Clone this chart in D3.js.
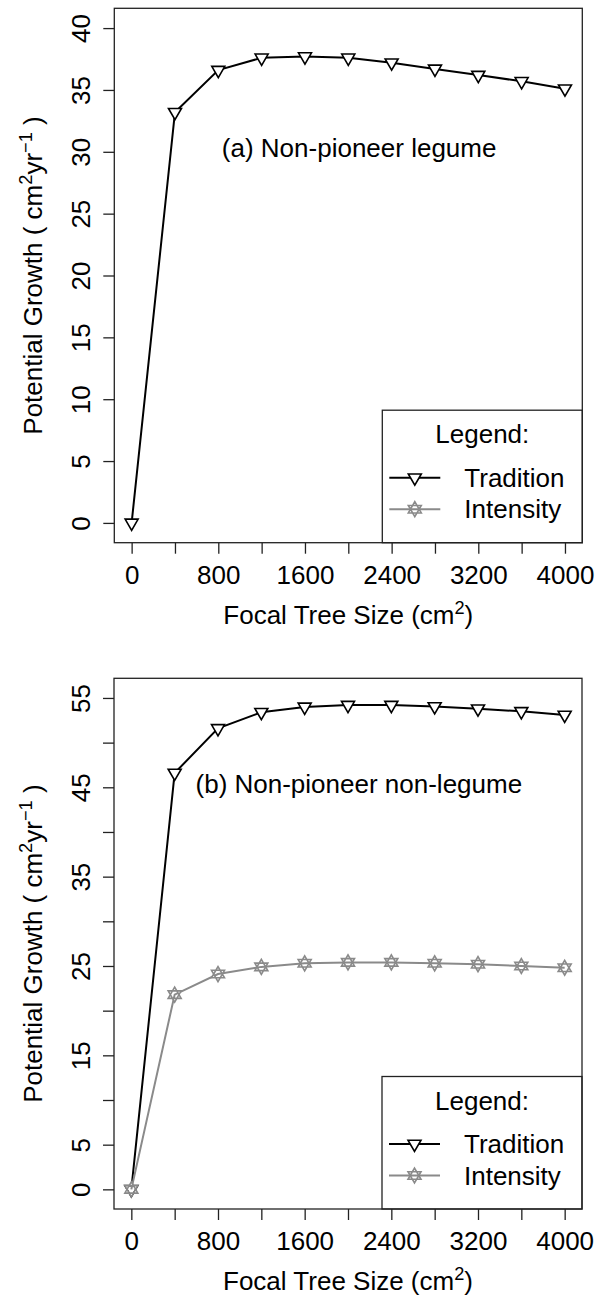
<!DOCTYPE html>
<html>
<head>
<meta charset="utf-8">
<script src="https://cdn.jsdelivr.net/npm/d3@7"></script>
<style>
  body { margin: 0; background: #fff; }
  svg text { font-family: "Liberation Sans", Arial, sans-serif; fill: #000; }
</style>
</head>
<body>
<svg id="chart" width="597" height="1298"></svg>
<script>
// focal tree size (cm^2), shared x values
const sizes = [0, 400, 800, 1200, 1600, 2000, 2400, 2800, 3200, 3600, 4000];

// (a) non-pioneer legume
const tradA = [0, 33.2, 36.6, 37.6, 37.7, 37.6, 37.2, 36.7, 36.2, 35.7, 35.1];
// (b) non-pioneer non-legume
const tradB = [0, 46.6, 51.6, 53.4, 54.0, 54.2, 54.2, 54.05, 53.8, 53.5, 53.1];
const intB  = [0, 21.8, 24.1, 24.9, 25.3, 25.4, 25.4, 25.3, 25.2, 25.0, 24.8];

const xTicks = [0, 400, 800, 1200, 1600, 2000, 2400, 2800, 3200, 3600, 4000];
const xLabels = ["0", "", "800", "", "1600", "", "2400", "", "3200", "", "4000"];
const yTicksA = [0, 5, 10, 15, 20, 25, 30, 35, 40];
const yLabelsA = ["0", "5", "10", "15", "20", "25", "30", "35", "40"];
const yTicksB = [0, 5, 10, 15, 20, 25, 30, 35, 40, 45, 50, 55];
const yLabelsB = ["0", "5", "", "15", "", "25", "", "35", "", "45", "", "55"];

const legendItems = ["Tradition", "Intensity"];

const FS = 26;
const GRAY = "#8a8a8a";

const svg = d3.select("#chart");

// R style: pad the limits by 4% on each side
const pad = (lo, hi) => { const d = (hi - lo) * 0.04; return [lo - d, hi + d]; };

const triDown = "M-6.5,-3.75L6.5,-3.75L0,7.5Z";
const triUp = "M-6.5,3.75L6.5,3.75L0,-7.5Z";

const drawMarker = (g, type) => {
  if (type === "Tradition") {
    g.append("path").attr("d", triDown)
      .attr("fill", "#fff").attr("stroke", "#000").attr("stroke-width", 1.6);
  } else {
    g.append("path").attr("d", triDown + triUp)
      .attr("fill", "#fff").attr("stroke", GRAY).attr("stroke-width", 1.6);
  }
};

const drawPanel = (opt) => {
  const {top, bottom, left, right, ylim, yTicks, yLabels, series, note} = opt;
  const x = d3.scaleLinear().domain(pad(0, 4000)).range([left, right]);
  const y = d3.scaleLinear().domain(pad(ylim[0], ylim[1])).range([bottom, top]);
  const g = svg.append("g");

  // x axis
  const xa = g.append("g").attr("transform", `translate(0,${bottom})`)
    .call(d3.axisBottom(x).tickValues(xTicks).tickSize(11).tickPadding(11.5)
      .tickFormat((d, i) => xLabels[i]));
  xa.select(".domain").remove();
  xa.selectAll("line").attr("stroke", "#222").attr("stroke-width", 1.3);
  xa.selectAll("text").attr("font-size", FS).attr("fill", "#000")
    .attr("font-family", "Liberation Sans, Arial, sans-serif");

  // y axis, labels parallel to the axis
  const ya = g.append("g").attr("transform", `translate(${left},0)`)
    .call(d3.axisLeft(y).tickValues(yTicks).tickSize(11)
      .tickFormat((d, i) => yLabels[i]));
  ya.select(".domain").remove();
  ya.selectAll("line").attr("stroke", "#222").attr("stroke-width", 1.3);
  ya.selectAll("text")
    .attr("font-size", FS).attr("fill", "#000")
    .attr("font-family", "Liberation Sans, Arial, sans-serif")
    .attr("x", 0).attr("y", -24).attr("dy", null)
    .attr("text-anchor", "middle")
    .attr("transform", "rotate(-90)");

  // axis titles
  const xt = g.append("text")
    .attr("x", (left + right) / 2).attr("y", bottom + 81)
    .attr("text-anchor", "middle").attr("font-size", FS);
  xt.append("tspan").text("Focal Tree Size (cm");
  xt.append("tspan").text("2").attr("font-size", FS * 0.7).attr("dy", -10);
  xt.append("tspan").text(")").attr("dy", 10);

  const yt = g.append("text")
    .attr("transform", `translate(42,${(top + bottom) / 2}) rotate(-90)`)
    .attr("text-anchor", "middle").attr("font-size", FS);
  yt.append("tspan").text("Potential Growth ( cm");
  yt.append("tspan").text("2").attr("font-size", FS * 0.7).attr("dy", -10);
  yt.append("tspan").text("yr").attr("dy", 10);
  yt.append("tspan").text("\u22121").attr("font-size", FS * 0.7).attr("dy", -10);
  yt.append("tspan").text(" )").attr("dy", 10);

  // series
  const line = d3.line().x((d, i) => x(sizes[i])).y(d => y(d));
  series.forEach(s => {
    const color = s.name === "Tradition" ? "#000" : GRAY;
    g.append("path").datum(s.values)
      .attr("d", line).attr("fill", "none")
      .attr("stroke", color).attr("stroke-width", 2);
    g.selectAll(null).data(s.values).enter().append("g")
      .attr("transform", (d, i) => `translate(${x(sizes[i])},${y(d)})`)
      .each(function() { drawMarker(d3.select(this), s.name); });
  });

  // panel note
  g.append("text").attr("x", x(note.x)).attr("y", y(note.y))
    .attr("dy", "0.36em").attr("text-anchor", "middle")
    .attr("font-size", FS).text(note.text);

  // legend, bottom-right corner
  const lw = 200, lh = 132.5;
  const lg = g.append("g").attr("transform", `translate(${right - lw},${bottom - lh})`);
  lg.append("rect").attr("width", lw).attr("height", lh)
    .attr("fill", "#fff").attr("stroke", "#222").attr("stroke-width", 1.3);
  lg.append("text").attr("x", lw / 2).attr("y", 33)
    .attr("text-anchor", "middle").attr("font-size", FS).text("Legend:");
  legendItems.forEach((name, i) => {
    const ly = 67.5 + i * 31.5;
    const color = name === "Tradition" ? "#000" : GRAY;
    lg.append("line").attr("x1", 7).attr("x2", 58).attr("y1", ly).attr("y2", ly)
      .attr("stroke", color).attr("stroke-width", 2);
    drawMarker(lg.append("g").attr("transform", `translate(32.5,${ly})`), name);
    lg.append("text").attr("x", 82).attr("y", ly + 9.3)
      .attr("font-size", FS).text(name);
  });

  // plot box
  g.append("rect").attr("x", left).attr("y", top)
    .attr("width", right - left).attr("height", bottom - top)
    .attr("fill", "none").attr("stroke", "#222").attr("stroke-width", 1.3);
};

drawPanel({
  top: 8.3, bottom: 542.7, left: 114.3, right: 582.3,
  ylim: [0, 40], yTicks: yTicksA, yLabels: yLabelsA,
  series: [{name: "Tradition", values: tradA}],
  note: {x: 2100, y: 30.3, text: "(a) Non-pioneer legume"}
});

drawPanel({
  top: 678.3, bottom: 1209, left: 114, right: 582,
  ylim: [0, 55], yTicks: yTicksB, yLabels: yLabelsB,
  series: [{name: "Tradition", values: tradB}, {name: "Intensity", values: intB}],
  note: {x: 2100, y: 45.4, text: "(b) Non-pioneer non-legume"}
});
</script>
</body>
</html>
